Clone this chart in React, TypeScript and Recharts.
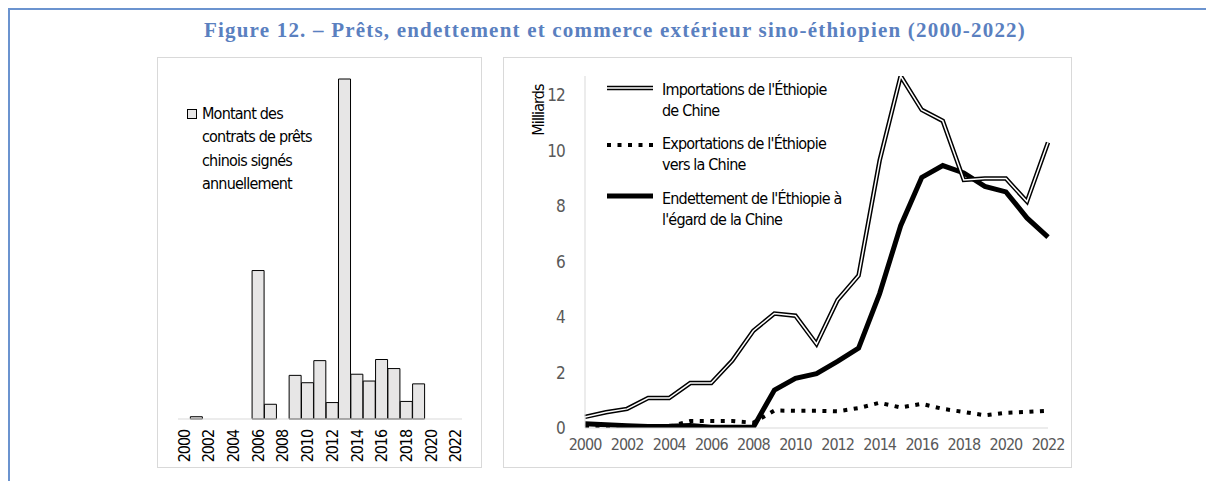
import React from "react";
import { Bar, BarChart, Line, LineChart, XAxis, YAxis } from "recharts";

const years = [
  "2000", "2001", "2002", "2003", "2004", "2005", "2006", "2007", "2008", "2009", "2010", "2011",
  "2012", "2013", "2014", "2015", "2016", "2017", "2018", "2019", "2020", "2021", "2022",
];

// montant des prêts signés (unités relatives, pas d'axe dans l'original)
const loans = [0, 20, 0, 0, 0, 0, 1310, 130, 0, 385, 320, 515, 145, 3000, 395, 335, 525, 445, 155, 310, 0, 0, 0];

// milliards
const imports = [0.4, 0.57, 0.69, 1.08, 1.08, 1.62, 1.62, 2.43, 3.51, 4.13, 4.05, 3.03, 4.62, 5.5, 9.65, 12.7, 11.48, 11.08, 8.95, 9.0, 9.0, 8.17, 10.3];
const exportsCn = [0.04, 0.03, 0.03, 0.02, 0.05, 0.25, 0.25, 0.25, 0.19, 0.63, 0.62, 0.62, 0.6, 0.72, 0.91, 0.74, 0.87, 0.69, 0.58, 0.46, 0.55, 0.58, 0.62];
const debt = [0.15, 0.12, 0.08, 0.05, 0.06, 0.09, 0.03, 0.03, 0.03, 1.37, 1.79, 1.96, 2.4, 2.88, 4.85, 7.3, 9.04, 9.47, 9.2, 8.72, 8.52, 7.58, 6.89];

const yTicks = [0, 2, 4, 6, 8, 10, 12];

const title = "Figure 12. – Prêts, endettement et commerce extérieur sino-éthiopien (2000-2022)";
const loanLegend = ["Montant des", "contrats de prêts", "chinois signés", "annuellement"];
const importsLegend = ["Importations de l'Éthiopie", "de Chine"];
const exportsLegend = ["Exportations de l'Éthiopie", "vers la Chine"];
const debtLegend = ["Endettement de l'Éthiopie à", "l'égard de la Chine"];

const cond = "'DejaVu Sans Condensed', 'Liberation Sans Narrow', sans-serif";

const loanData = years.map((year, i) => ({ year, v: loans[i] }));
const tradeData = years.map((year, i) => ({
  year,
  imp: imports[i],
  exp: exportsCn[i],
  debt: debt[i],
}));

function RotatedTick({ x, y, payload }: any) {
  return (
    <text
      x={x}
      y={y + 3}
      transform={`rotate(-90, ${x}, ${y + 3})`}
      textAnchor="end"
      dominantBaseline="central"
      fill="#000"
      fontSize={16}
      letterSpacing={-1.1}
      fontFamily={cond}
    >
      {payload.value}
    </text>
  );
}

function TextBlock({ lines, left, top, lh }: { lines: string[]; left: number; top: number; lh: number }) {
  return (
    <div
      style={{
        position: "absolute",
        left,
        top,
        fontFamily: cond,
        fontSize: 16,
        letterSpacing: -0.8,
        lineHeight: `${lh}px`,
        color: "#000",
        whiteSpace: "nowrap",
      }}
    >
      {lines.map((l) => (
        <div key={l}>{l}</div>
      ))}
    </div>
  );
}

export default function App() {
  return (
    <div
      style={{
        position: "absolute",
        left: 0,
        top: 0,
        width: 1206,
        height: 481,
        background: "#fff",
        overflow: "hidden",
      }}
    >
      {/* cadre bleu */}
      <div style={{ position: "absolute", left: 8, top: 8, width: 1198, height: 2, background: "#6b93cf" }} />
      <div style={{ position: "absolute", left: 8, top: 8, width: 2, height: 473, background: "#6b93cf" }} />

      <div
        style={{
          position: "absolute",
          left: 115,
          top: 18,
          width: 1000,
          textAlign: "center",
          fontFamily: "'Liberation Serif', serif",
          fontWeight: "bold",
          fontSize: 21,
          letterSpacing: 1.2,
          color: "#5a80c0",
          whiteSpace: "nowrap",
        }}
      >
        {title}
      </div>

      {/* panneau gauche */}
      <div
        style={{
          position: "absolute",
          left: 157,
          top: 57,
          width: 325,
          height: 411,
          border: "1px solid #d9d9d9",
          boxSizing: "border-box",
        }}
      />
      <div style={{ position: "absolute", left: 157, top: 57 }}>
        <BarChart
          width={325}
          height={411}
          data={loanData}
          margin={{ top: 22, right: 20, left: 21, bottom: 4 }}
          barCategoryGap={0}
        >
          <XAxis
            dataKey="year"
            interval={1}
            height={45}
            tickLine={false}
            axisLine={{ stroke: "#d9d9d9" }}
            tick={<RotatedTick />}
          />
          <YAxis hide domain={[0, 3000]} />
          <Bar dataKey="v" fill="#e7e6e6" stroke="#000" strokeWidth={1} isAnimationActive={false} />
        </BarChart>
      </div>
      <div
        style={{
          position: "absolute",
          left: 187,
          top: 109,
          width: 10,
          height: 10,
          background: "#e7e6e6",
          border: "1px solid #000",
          boxSizing: "border-box",
        }}
      />
      <TextBlock lines={loanLegend} left={202} top={102} lh={23.3} />

      {/* panneau droit */}
      <div
        style={{
          position: "absolute",
          left: 503,
          top: 57,
          width: 569,
          height: 411,
          border: "1px solid #d9d9d9",
          boxSizing: "border-box",
        }}
      />
      <div style={{ position: "absolute", left: 503, top: 57 }}>
        <LineChart width={569} height={411} data={tradeData} margin={{ top: 19, right: 24, left: 20, bottom: 4 }}>
          <XAxis
            dataKey="year"
            interval={1}
            height={36}
            tickSize={0}
            tickMargin={11}
            axisLine={{ stroke: "#d9d9d9" }}
            tick={{ fill: "#595959", fontSize: 16, fontFamily: cond, letterSpacing: -1 }}
          />
          <YAxis
            width={62}
            domain={[0, 12.7]}
            ticks={yTicks}
            allowDataOverflow
            tickSize={0}
            tickMargin={20}
            axisLine={{ stroke: "#d9d9d9" }}
            tick={{ fill: "#595959", fontSize: 17, fontFamily: cond, letterSpacing: -0.8 }}
            label={{
              content: ({ viewBox }: any) => (
                <text
                  x={viewBox.x + 15}
                  y={53}
                  transform={`rotate(-90, ${viewBox.x + 15}, 53)`}
                  textAnchor="middle"
                  dominantBaseline="central"
                  fontSize={16}
                  letterSpacing={-0.9}
                  fontFamily={cond}
                  fill="#000"
                >
                  Milliards
                </text>
              ),
            }}
          />
          <Line type="linear" dataKey="exp" stroke="#000" strokeWidth={4} strokeDasharray="4 6.5" dot={false} isAnimationActive={false} />
          <Line type="linear" dataKey="debt" stroke="#000" strokeWidth={5} dot={false} isAnimationActive={false} />
          <Line type="linear" dataKey="imp" stroke="#000" strokeWidth={4.5} dot={false} isAnimationActive={false} />
          <Line type="linear" dataKey="imp" stroke="#fff" strokeWidth={1.5} dot={false} isAnimationActive={false} />
        </LineChart>
      </div>

      {/* légende droite */}
      <svg style={{ position: "absolute", left: 607, top: 80 }} width={46} height={125}>
        <line x1={0} x2={46} y1={8} y2={8} stroke="#000" strokeWidth={4.5} />
        <line x1={0} x2={46} y1={8} y2={8} stroke="#fff" strokeWidth={1.5} />
        <line x1={0} x2={46} y1={65} y2={65} stroke="#000" strokeWidth={4} strokeDasharray="4 6.5" />
        <line x1={0} x2={46} y1={116} y2={116} stroke="#000" strokeWidth={5} />
      </svg>
      <TextBlock lines={importsLegend} left={662} top={78.5} lh={21} />
      <TextBlock lines={exportsLegend} left={662} top={132.5} lh={21} />
      <TextBlock lines={debtLegend} left={662} top={187.5} lh={21} />
    </div>
  );
}
